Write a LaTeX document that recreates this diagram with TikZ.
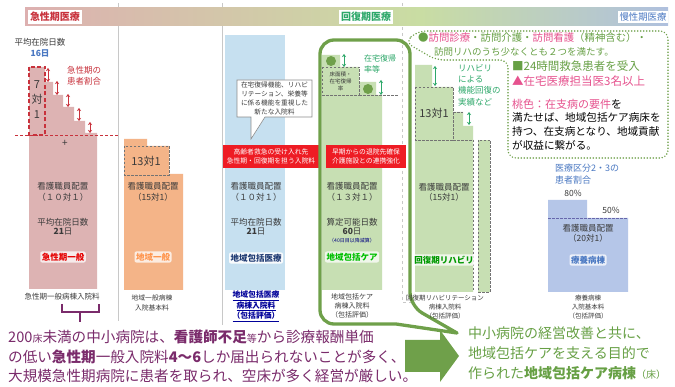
\documentclass[tikz,border=0pt]{standalone}
\usepackage{fontspec}
\setmainfont{Noto Sans CJK JP}
\usetikzlibrary{arrows.meta}
\definecolor{cpink}{HTML}{DDB3B3}
\definecolor{cred}{HTML}{C8323C}
\definecolor{corange}{HTML}{F4B488}
\definecolor{cblue}{HTML}{C6E0F0}
\definecolor{cgreen}{HTML}{C7DFB3}
\definecolor{cgline}{HTML}{6FA04A}
\definecolor{cgtext}{HTML}{67A045}
\definecolor{cteal}{HTML}{2EA86A}
\definecolor{cmag}{HTML}{E6528E}
\definecolor{cnavy}{HTML}{1F3B73}
\definecolor{cslate}{HTML}{B5C6E8}
\definecolor{cslatetxt}{HTML}{4A78C2}
\definecolor{cpurple}{HTML}{7A2B6B}
\definecolor{cbanner}{HTML}{EE1C24}
\definecolor{ctxt}{HTML}{3A3A3A}
\definecolor{hpink}{HTML}{DDB0B0}
\definecolor{hgreen}{HTML}{C9DDA3}
\definecolor{hblue}{HTML}{AFC0DE}
\definecolor{csep}{HTML}{C8C8C8}
\newcommand{\fz}[2]{\fontsize{#1}{#2}\selectfont}
\begin{document}
\begin{tikzpicture}[x=1pt,y=-1pt,
  every node/.style={inner sep=0pt, align=center, text=ctxt},
  hdr/.style={fill=white, inner sep=1.8pt, font=\bfseries\fz{10}{12}},
  body/.style={font=\fz{8.5}{10}},
  small/.style={font=\fz{6.8}{9.3}},
  glow/.style={fill=white, fill opacity=0.75, text opacity=1, rounded corners=2pt, inner sep=1.5pt, font=\bfseries\fz{8.5}{10}},
  darr/.style={{Stealth[length=3pt,width=4pt]}-{Stealth[length=3pt,width=4pt]}, line width=0.8pt},
  sepline/.style={csep, line width=0.6pt},
  gdash/.style={draw=black!55, line width=0.6pt, dash pattern=on 2.5pt off 1.5pt},
  dotline/.style={cgline, line width=1.6pt, line cap=round, dash pattern=on 0pt off 3pt},
]
\useasboundingbox (0,0) rectangle (675,387);
\fill[white] (0,0) rectangle (675,387);

% separators
\draw[sepline] (118,3) -- (118,321);
\draw[sepline] (222,3) -- (222,325);
\draw[sepline, dashed] (402,3) -- (402,302) -- (413,302);

% header
\shade[left color=hpink, right color=hgreen] (25,8) rectangle (420,26);
\shade[left color=hgreen, right color=hblue] (420,8) rectangle (668,26);
\node[hdr, text=cred] (h1) at (55,17) {急性期医療};
\node[hdr, text=cteal] (h2) at (366,17) {回復期医療};
\node[hdr, text=cslatetxt, font=\fz{9.4}{11}] (h3) at (643,17) {慢性期医療};

% ---------- column 1 ----------
\fill[cpink] (29,67) -- (45,67) -- (45,82) -- (53,82) -- (53,95) -- (63,95) -- (63,107) -- (74,107) -- (74,121) -- (85,121) -- (85,133) -- (97,133) -- (97,289) -- (29,289) -- cycle;
\draw[cred, line width=0.7pt, dash pattern=on 3pt off 2pt] (15,135) -- (118,135);
\draw[cred, line width=1.6pt, dash pattern=on 4pt off 2.5pt] (29,67) rectangle (45,135);
\foreach \x/\a/\b in {48/68/82, 57/81/95, 68/94/107, 79/108/121, 90/122/133}
  \draw[darr, cred] (\x,\a) -- (\x,\b);
\node[font=\fz{11}{15}] (c1r) at (37,100) {7\\対\\1};
\node[font=\fz{8.5}{11}, text=cred] (c1a) at (84,76) {急性期の\\患者割合};
\node[body] (c1d) at (40,42) {平均在院日数};
\node[body, text=cslatetxt, font=\bfseries\fz{8.5}{10}] (c1e) at (40,53) {16日};
\node[font=\fz{10}{10}] (c1p) at (65,143) {+};
\node[body] (c1b1) at (63,186) {看護職員配置};
\node[body] (c1b2) at (63,197) {（１０対１）};
\node[body] (c1b3) at (63,222) {平均在院日数};
\node[body] (c1b4) at (63,232) {\textbf{21}日};
\node[glow, text=red!90!black] (c1n) at (63,257) {急性期一般};
\node[font=\fz{7.5}{9}] (c1l) at (62,297) {急性期一般病棟入院料};
\draw[cpurple, line width=1.8pt] (62,304) -- (62,312) -- (99,312) -- (99,304);
\draw[cpurple, line width=1.8pt] (80,312) -- (80,322);

% ---------- column 2 ----------
\fill[corange] (124,139) -- (147,139) -- (147,146) -- (169,146) -- (169,174) -- (183,174) -- (183,290) -- (124,290) -- cycle;
\draw[gdash] (124,146) rectangle (169,175);
\node[font=\fz{11}{11}] (c2r) at (146,161) {13対1};
\node[body] (c2b1) at (153,186) {看護職員配置};
\node[body] (c2b2) at (153,197) {（15対1）};
\node[glow, text=orange!80!red!70] (c2n) at (153,257) {地域一般};
\node[small] (c2l) at (152,303) {地域一般病棟\\入院基本料};

% ---------- column 3 ----------
\fill[cblue] (225,35) rectangle (285,290);
\draw[black!45, line width=0.6pt, fill=white] (237,80) -- (312,80) -- (312,117) -- (265,117) -- (251,139) -- (251,117) -- (237,117) -- cycle;
\node[font=\fz{6.7}{9}] (c3s) at (274.5,98.5) {在宅復帰機能、リハビ\\リテーション、栄養等\\に係る機能を重視した\\新たな入院料};
\fill[cbanner] (223,145) rectangle (319,168);
\node[font=\fz{6.8}{9.5}, text=white] (c3ban) at (271,156.5) {高齢者救急の受け入れ先\\急性期・回復期を担う入院料};
\node[body] (c3b1) at (256,186) {看護職員配置};
\node[body] (c3b2) at (256,197) {（１０対１）};
\node[body] (c3b3) at (256,222) {平均在院日数};
\node[body] (c3b4) at (256,232) {\textbf{21}日};
\node[glow, text=cnavy, fill opacity=0.9] (c3n) at (256,258) {地域包括医療};
\node[font=\bfseries\fz{7.8}{9.3}, text=blue!60!black] (c3l) at (256,306.5) {\underline{地域包括医療}\\\underline{病棟入院料}\\\underline{（包括評価）}};

% ---------- column 4 ----------
\fill[cgreen] (322,55) -- (340,55) -- (340,67) -- (359,67) -- (359,82) -- (376,82) -- (376,95) -- (382,95) -- (382,290) -- (322,290) -- cycle;
\fill[cgline] (331,61) circle (5pt);
\fill[cgline] (368,89) circle (5pt);
\draw[gdash] (322,67) rectangle (359,95);
\draw[gdash] (359,95) -- (398,95);
\draw[darr, cteal] (344,54) -- (344,67);
\draw[darr, cteal] (381,80) -- (381,95);
\node[font=\fz{5.5}{7}] (c4box) at (340.5,81) {床面積・\\在宅復帰\\率};
\node[font=\fz{8}{11.5}, text=cteal, align=left, anchor=west] (c4t) at (364,64) {在宅復帰\\率等};
\fill[cbanner] (326,145) rectangle (406,168);
\node[font=\fz{6.8}{9.5}, text=white] (c4ban) at (366,156.5) {早期からの退院先確保\\介護施設との連携強化};
\node[body] (c4b1) at (352,186) {看護職員配置};
\node[body] (c4b2) at (352,197) {（１３対１）};
\node[body] (c4b3) at (352,222) {算定可能日数};
\node[body] (c4b4) at (352,232) {\textbf{60}日};
\node[font=\fz{5}{6}, text=blue!50!black] (c4b5) at (352,241) {（40日目以降減算）};
\node[glow, text=green!75!black] (c4n) at (352,257) {地域包括ケア};
\node[font=\fz{7}{9.3}] (c4l) at (352,306) {地域包括ケア\\病棟入院料\\（包括評価）};
\draw[cgline, line width=3.3pt, line join=round] (320,180) [rounded corners=14pt] -- (320,40) -- (410,40) -- (410,306) [sharp corners] -- (457,333) -- (396,324) [rounded corners=14pt] -- (320,324) -- (320,170);

% ---------- column 5 ----------
\fill[cgreen] (415,65) -- (432,65) -- (432,87) -- (453,87) -- (453,112) -- (463,112) -- (463,126) -- (473,126) -- (473,292) -- (415,292) -- cycle;
\fill[cgreen] (478,140) rectangle (490,292);
\draw[gdash] (478,140) rectangle (490,292);
\draw[gdash] (415,87) rectangle (453,140);
\draw[gdash] (453,140) -- (473,140) -- (473,292);
\draw[gdash] (453,112) -- (463,112);
\draw[darr, cteal] (435,66) -- (435,86);
\draw[darr, cteal] (469,112) -- (469,125);
\node[font=\fz{11}{11}] (c5r) at (434,113) {13対1};
\node[font=\fz{8.5}{11.3}, text=cteal, align=left, anchor=west] (c5t) at (458,85) {リハビリ\\による\\機能回復の\\実績など};
\node[body] (c5b1) at (444,187) {看護職員配置};
\node[body] (c5b2) at (444,197) {（15対1）};
\node[glow, text=green!60!black] (c5n) at (444,260) {回復期リハビリ};
\node[font=\fz{6.5}{9}] (c5l) at (445,307) {回復期リハビリテーション\\病棟入院料\\（包括評価）};

% ---------- column 6 ----------
\fill[cslate] (548,200) -- (587,200) -- (587,218) -- (628,218) -- (628,292) -- (548,292) -- cycle;
\draw[blue!45!black!60, line width=0.6pt, dash pattern=on 2.5pt off 1.5pt] (548,218) -- (628,218);
\node[font=\fz{9}{12.5}, text=cslatetxt, align=left, anchor=west] (c6t) at (555,174) {医療区分2・3の\\患者割合};
\node[font=\fz{8.5}{10}] (c6a) at (573,193) {80\%};
\node[font=\fz{8.5}{10}] (c6b) at (611,210) {50\%};
\node[body] (c6b1) at (588,228) {看護職員配置};
\node[body] (c6b2) at (588,238) {（20対1）};
\node[glow, text=cslatetxt] (c6n) at (588,260) {療養病棟};
\node[font=\fz{6.5}{9}] (c6l) at (588,307) {療養病棟\\入院基本料\\（包括評価）};

% ---------- dotted callout ----------
\draw[dotline, rounded corners=8pt] (405,42) -- (418,31) -- (668,31) -- (668,158) -- (508,158) -- (508,60) -- (436,60) -- cycle;
\node[font=\fz{10.4}{12}, anchor=west] (k1) at (418,38) {\textcolor{cgtext}{●}\textcolor{cmag}{訪問診療}\textcolor{cgtext}{・訪問介護・}\textcolor{cmag}{訪問看護}\textcolor{cgtext}{（精神含む）・}};
\node[font=\fz{9.5}{11}, anchor=west, text=cgtext] (k2) at (434,52) {訪問リハのうち少なくとも２つを満たす。};
\node[font=\fz{11.5}{13}, anchor=west, text=cgtext] (k3) at (512,66) {■24時間救急患者を受入};
\node[font=\fz{11.5}{13}, anchor=west, text=cmag] (k4) at (512,81) {▲在宅医療担当医3名以上};
\node[font=\fz{11}{13}, anchor=west, text=black] (k5) at (512,104) {\textcolor{cmag}{桃色：在支病の要件}を};
\node[font=\fz{10.6}{14.2}, anchor=north west, text=black, align=left] (k6) at (512,112) {満たせば、地域包括ケア病床を\\持つ、在支病となり、地域貢献\\が収益に繋がる。};

% ---------- bottom ----------
\node[font=\fz{14.6}{19.5}, text=cpurple, align=left, anchor=north west] (bl) at (8,330) {200{\fz{10}{10}床}未満の中小病院は、\textbf{看護師不足}{\fz{10}{10}等}から診療報酬単価\\の低い\textbf{急性期}一般入院料\textbf{4～6}しか届出られないことが多く、\\大規模急性期病院に患者を取られ、空床が多く経営が厳しい。};
\fill[cgline] (405,340) -- (440,340) -- (440,330) -- (459,356) -- (440,382) -- (440,372) -- (405,372) -- cycle;
\node[font=\fz{14}{19.8}, text=cgtext, align=left, anchor=north west] (br) at (468,327) {中小病院の経営改善と共に、\\地域包括ケアを支える目的で\\作られた\textbf{地域包括ケア病棟}{\fz{10}{10}（床）}};
\end{tikzpicture}
\end{document}
